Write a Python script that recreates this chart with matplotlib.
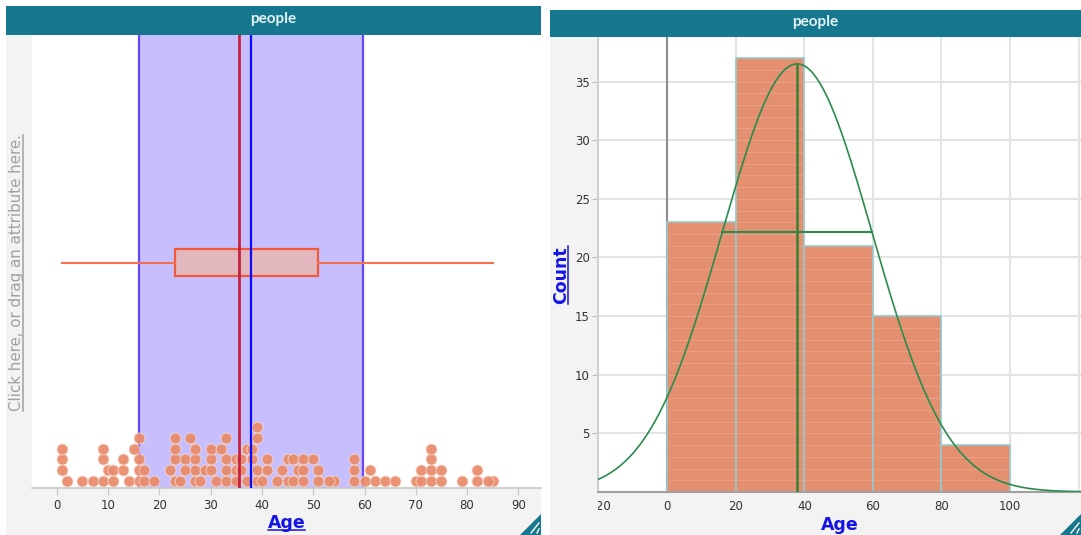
import matplotlib
matplotlib.use('Agg')
import matplotlib.pyplot as plt
import numpy as np
from matplotlib.patches import Rectangle, Polygon
from matplotlib.lines import Line2D

# --- data (case order as listed in the table) ---
ages = [2, 1, 1, 1, 5, 7, 9, 10, 9, 9, 11, 11, 14, 13, 13, 16, 16, 16, 15, 16, 17, 17, 19,
        23, 22, 23, 23, 23, 24, 25, 25, 27, 27, 27, 27, 26, 28, 29, 31, 30, 30, 30,
        33, 33, 33, 32, 33, 35, 35, 35, 37, 36, 36, 37, 39, 39, 38, 38, 39, 39,
        40, 41, 41, 43, 45, 44, 45, 46, 47, 46, 48, 48, 48, 51, 51, 50, 54, 53, 58, 58, 58,
        60, 61, 62, 64, 66, 70, 71, 71, 73, 73, 73, 73, 75, 75, 79,
        82, 82, 85, 84]
hist_edges = [0, 20, 40, 60, 80, 100]
dot_ticks = [0, 10, 20, 30, 40, 50, 60, 70, 80, 90]
hist_xticks = [-20, 0, 20, 40, 60, 80, 100]
hist_grid_x = [20, 40, 60, 80, 100, 120]
hist_yticks = [5, 10, 15, 20, 25, 30, 35]
dataset = 'people'
attr = 'Age'

W, H = 1081, 535
plt.rcParams['font.family'] = ['DejaVu Sans']
fig = plt.figure(figsize=(W / 100, H / 100), dpi=100)
fig.patch.set_facecolor('white')

TEAL = '#16788F'
PANEL = '#F3F3F3'
LINK = '#1414E6'


def box(x0, y0, x1, y1):
    return [x0 / W, 1 - y1 / H, (x1 - x0) / W, (y1 - y0) / H]


def rect(x0, y0, x1, y1, color, z=-5):
    l, b, w, h = box(x0, y0, x1, y1)
    fig.patches.append(Rectangle((l, b), w, h, transform=fig.transFigure,
                                 facecolor=color, edgecolor='none', zorder=z))


def grip(x1, y1):
    pts = [((x1 - 21) / W, 1 - y1 / H), (x1 / W, 1 - y1 / H), (x1 / W, 1 - (y1 - 21) / H)]
    fig.patches.append(Polygon(pts, closed=True, transform=fig.transFigure,
                               facecolor=TEAL, edgecolor='none', zorder=6))
    for d in (7, 13):
        fig.lines.append(Line2D([(x1 - d + 3) / W, (x1 - 2) / W],
                                [1 - (y1 - 2) / H, 1 - (y1 - d + 1) / H],
                                transform=fig.transFigure, color='white', lw=1, zorder=7))


def underline(t, vertical=False, off=2.0):
    fig.canvas.draw()
    bb = t.get_window_extent()
    inv = fig.transFigure.inverted()
    if vertical:
        p0 = inv.transform((bb.x1 - off, bb.y0))
        p1 = inv.transform((bb.x1 - off, bb.y1))
    else:
        p0 = inv.transform((bb.x0, bb.y0 + off))
        p1 = inv.transform((bb.x1, bb.y0 + off))
    fig.lines.append(Line2D([p0[0], p1[0]], [p0[1], p1[1]], transform=fig.transFigure,
                            color=t.get_color(), lw=1.1, zorder=8))


vals = np.array(ages, dtype=float)
n = len(vals)
mean = vals.mean()
sd = vals.std(ddof=1)
med = np.median(vals)

# ---------------- backgrounds ----------------
rect(6, 35, 541, 535, PANEL)
rect(550, 37, 1081, 535, PANEL)
rect(6, 6, 541, 35, TEAL, z=5)
rect(550, 10, 1081, 37, TEAL, z=5)
fig.text(273.5 / W, 1 - 19 / H, dataset, ha='center', va='center', color='#E3F1F3',
         fontsize=11, fontfamily='Lato', fontweight='bold', zorder=6)
fig.text(815.5 / W, 1 - 22 / H, dataset, ha='center', va='center', color='#E3F1F3',
         fontsize=11, fontfamily='Lato', fontweight='bold', zorder=6)

# ---------------- left: dot plot ----------------
ax1 = fig.add_axes(box(32, 35, 541, 488))
px0, pscale = 56.7, 5.13
ax1.set_xlim((32 - px0) / pscale, (541 - px0) / pscale)
ax1.set_ylim(0, 453)

# stack dots in bins about one dot wide
bin_o, bin_w = 0.55, 2.045
stack = {}
rows = []
for a in ages:
    b = int(np.floor((a - bin_o) / bin_w))
    rows.append(stack.get(b, 0))
    stack[b] = stack.get(b, 0) + 1
rows = np.array(rows)

ax1.axvspan(mean - sd, mean + sd, facecolor='#C7BFFD', edgecolor='none', zorder=1)
ax1.axvline(mean - sd, color='#6A45FF', lw=1.6, zorder=1.5)
ax1.axvline(mean + sd, color='#6A45FF', lw=1.6, zorder=1.5)

ax1.scatter(vals, 7.3 + rows * 10.7, s=62, facecolor='#E88C6D', edgecolor='#F7D9CE',
            linewidth=0.6, alpha=0.95, zorder=2)

bp = ax1.boxplot(vals, orientation='horizontal', positions=[225.5], widths=26.4,
                 whis=(0, 100), showfliers=False, showcaps=False, patch_artist=True,
                 manage_ticks=False,
                 boxprops=dict(facecolor='#E2B7BD', edgecolor='#F2593B', linewidth=1.6),
                 whiskerprops=dict(color='#F4714F', linewidth=1.5),
                 medianprops=dict(linewidth=0))
for art in bp['boxes'] + bp['whiskers']:
    art.set_zorder(3)

ax1.axvline(med, color='#C4223F', lw=2.0, zorder=4)
ax1.axvline(mean, color='#0B0BFF', lw=1.6, zorder=4)

ax1.set_xticks(dot_ticks)
ax1.set_yticks([])
ax1.tick_params(axis='x', length=5, color='#C8C8C8', labelsize=8.5, labelcolor='#333333', pad=3)
for s in ('top', 'right', 'left'):
    ax1.spines[s].set_visible(False)
ax1.spines['bottom'].set_color('#C8C8C8')
ax1.spines['bottom'].set_linewidth(1.2)

t_age1 = fig.text(286.5 / W, 1 - 523 / H, attr, ha='center', va='center', color=LINK,
                  fontsize=12.5, fontweight='bold')
t_click = fig.text(17 / W, 1 - 273 / H, 'Click here, or drag an attribute here.', rotation=90,
                   ha='center', va='center', color='#A0A0A0', fontsize=10.8)

# ---------------- right: histogram ----------------
ax2 = fig.add_axes(box(598, 37, 1081, 492))
hx0, hscale = 667.3, 3.427
ax2.set_xlim((598 - hx0) / hscale, (1081 - hx0) / hscale)
ax2.set_ylim(0, 38.8)

for gx in hist_grid_x:
    ax2.axvline(gx, color='#E3E3E3', lw=1.4, zorder=0.5)
for gy in hist_yticks:
    ax2.axhline(gy, color='#E3E3E3', lw=1.4, zorder=0.5)
ax2.axvline(0, color='#8C8C8C', lw=1.5, zorder=1)

counts, edges, _ = ax2.hist(vals, bins=hist_edges, color='#E48F6F', edgecolor='#95C9CE',
                            linewidth=1.2, zorder=2)
for c, l, r in zip(counts, edges[:-1], edges[1:]):
    if c > 1:
        ax2.hlines(np.arange(1, int(c)), l + 0.4, r - 0.4, colors='white', alpha=0.16,
                   lw=0.8, zorder=2.5)

xs = np.linspace(*ax2.get_xlim(), 500)
scale = n * (hist_edges[1] - hist_edges[0]) / (sd * np.sqrt(2 * np.pi))
ax2.plot(xs, scale * np.exp(-0.5 * ((xs - mean) / sd) ** 2), color='#2A8C4C', lw=1.2, zorder=4)
ax2.plot([mean, mean], [0, scale], color='#3A7F33', lw=1.8, zorder=4)
ax2.plot([mean - sd, mean + sd], [scale * np.exp(-0.5)] * 2, color='#2A8C4C', lw=1.5, zorder=4)

ax2.set_xticks(hist_xticks)
ax2.set_yticks(hist_yticks)
ax2.tick_params(axis='x', length=0, labelsize=8.5, labelcolor='#333333', pad=6)
ax2.tick_params(axis='y', length=4, color='#BBBBBB', labelsize=8.5, labelcolor='#333333', pad=2)
for s in ('top', 'right'):
    ax2.spines[s].set_visible(False)
ax2.spines['left'].set_color('#D0D0D0')
ax2.spines['left'].set_linewidth(1.5)
ax2.spines['bottom'].set_color('#A0A0A0')
ax2.spines['bottom'].set_linewidth(1.5)

# hide the part of the first x label that falls left of the plot
rect(550, 493, 597.5, 535, PANEL, z=1)

t_age2 = fig.text(839.5 / W, 1 - 525 / H, attr, ha='center', va='center', color=LINK,
                  fontsize=12.5, fontweight='bold')
t_count = fig.text(561 / W, 1 - 275 / H, 'Count', rotation=90, ha='center', va='center',
                   color=LINK, fontsize=12.5, fontweight='bold')

grip(541, 535)
grip(1081, 535)

underline(t_age1, off=2.5)
underline(t_count, vertical=True, off=2.5)
underline(t_click, vertical=True, off=2.0)

fig.savefig('out.png', dpi=100)
